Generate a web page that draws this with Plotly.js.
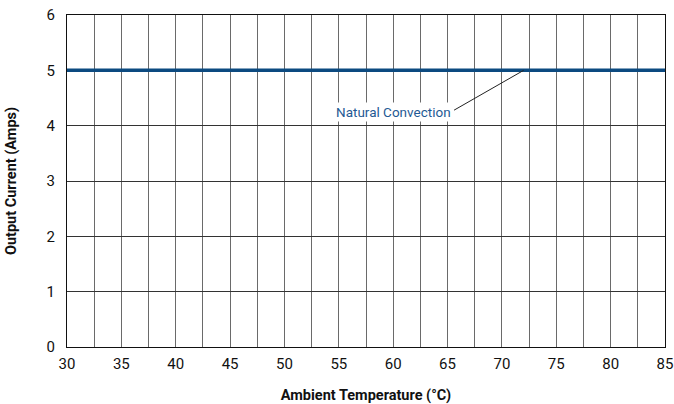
<!DOCTYPE html>
<html>
<head>
<meta charset="utf-8">
<script src="https://cdn.plot.ly/plotly-3.0.1.min.js"></script>
<style>html,body{margin:0;padding:0;background:#fff;}#chart{width:674px;height:404px;}</style>
</head>
<body>
<div id="chart"></div>
<script>
const temperature = [30, 85];
const naturalConvection = [5, 5];
const seriesName = 'Natural Convection';
const xTickVals = [30, 35, 40, 45, 50, 55, 60, 65, 70, 75, 80, 85];
const yTickVals = [0, 1, 2, 3, 4, 5, 6];
const labelPos = {x: 60.0, y: 4.25};
const leaderStart = {x: 65.6, y: 4.28};
const leaderEnd = {x: 72, y: 5};

const FONT = 'Roboto, "Liberation Sans", sans-serif';

const data = [{
  x: temperature,
  y: naturalConvection,
  type: 'scatter',
  mode: 'lines',
  name: seriesName,
  line: {color: '#0c4a80', width: 3.5},
  hoverinfo: 'skip'
}];

const layout = {
  width: 674, height: 404,
  margin: {l: 67, r: 9, t: 15, b: 57},
  paper_bgcolor: '#fff', plot_bgcolor: '#fff',
  showlegend: false,
  font: {family: FONT, size: 14, color: '#111'},
  xaxis: {
    range: [30, 85],
    tickvals: xTickVals,
    ticks: '',
    showgrid: true,
    gridcolor: '#6a6a6a', gridwidth: 1,
    minor: {dtick: 2.5, tick0: 30, showgrid: true, gridcolor: '#6a6a6a', gridwidth: 1},
    showline: true, linecolor: '#111', linewidth: 1, mirror: true,
    zeroline: false,
    tickfont: {family: FONT, size: 15, color: '#111'},
    ticklabelstandoff: 3,
    title: {text: '<b>Ambient Temperature (°C)</b>', font: {family: FONT, size: 14.5, color: '#111'}, standoff: 24}
  },
  yaxis: {
    range: [0, 6],
    tickvals: yTickVals,
    ticks: '',
    showgrid: true,
    gridcolor: '#333', gridwidth: 1,
    showline: true, linecolor: '#111', linewidth: 1, mirror: true,
    zeroline: false,
    tickfont: {family: FONT, size: 15, color: '#111'},
    ticklabelstandoff: 8,
    title: {text: '<b>Output Current (Amps)</b>', font: {family: FONT, size: 14.5, color: '#111'}, standoff: 26}
  },
  annotations: [{
    x: labelPos.x, y: labelPos.y, xref: 'x', yref: 'y',
    text: seriesName, showarrow: false,
    font: {family: FONT, size: 13.5, color: '#1f5a94'},
    bgcolor: '#fff', borderpad: 1
  }],
  shapes: [{
    type: 'line', xref: 'x', yref: 'y',
    x0: leaderStart.x, y0: leaderStart.y, x1: leaderEnd.x, y1: leaderEnd.y,
    line: {color: '#222', width: 1}
  }]
};

Plotly.newPlot('chart', data, layout, {staticPlot: true, displayModeBar: false});
</script>
</body>
</html>
